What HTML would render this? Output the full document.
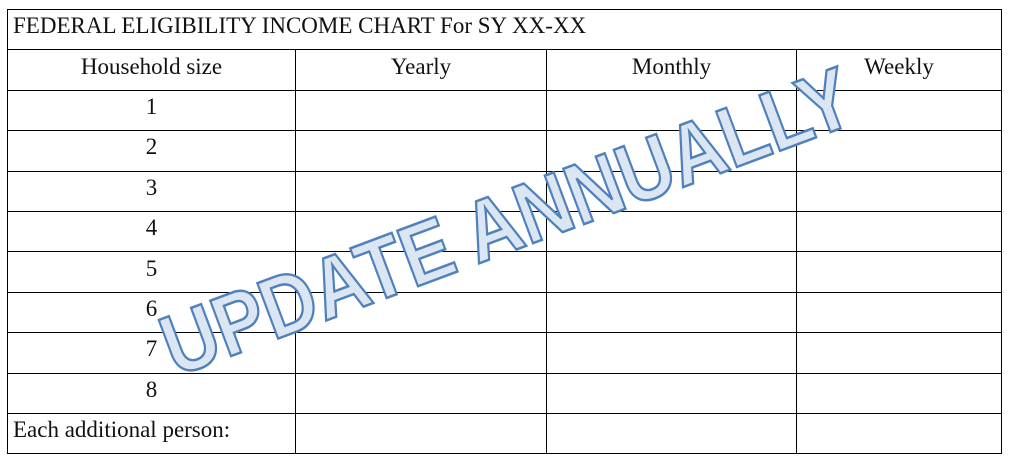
<!DOCTYPE html>
<html><head><meta charset="utf-8"><style>
body{margin:0;width:1009px;height:462px;background:#fff;overflow:hidden;position:relative}
table{position:absolute;left:7px;top:9px;border-collapse:collapse;font-family:"Liberation Serif",serif;font-size:23px;color:#111;table-layout:fixed}
td{border:1px solid #000;height:40.4px;padding:0 0 8px 0;text-align:center;vertical-align:middle;box-sizing:border-box;line-height:1}
tr{height:40.4px}
.l{text-align:left;padding-left:5px}
svg{position:absolute;left:0;top:0}
</style></head><body>
<table>
<colgroup><col style="width:288px"><col style="width:251px"><col style="width:250px"><col style="width:205px"></colgroup>
<tr><td class="l" colspan="4">FEDERAL ELIGIBILITY INCOME CHART For SY XX-XX</td></tr>
<tr><td>Household size</td><td>Yearly</td><td>Monthly</td><td>Weekly</td></tr>
<tr><td>1</td><td></td><td></td><td></td></tr>
<tr><td>2</td><td></td><td></td><td></td></tr>
<tr><td>3</td><td></td><td></td><td></td></tr>
<tr><td>4</td><td></td><td></td><td></td></tr>
<tr><td>5</td><td></td><td></td><td></td></tr>
<tr><td>6</td><td></td><td></td><td></td></tr>
<tr><td>7</td><td></td><td></td><td></td></tr>
<tr><td>8</td><td></td><td></td><td></td></tr>
<tr><td class="l">Each additional person:</td><td></td><td></td><td></td></tr>
</table>
<svg width="1009" height="462">
<text x="507" y="222" transform="rotate(-20.5 507 222)" text-anchor="middle" dominant-baseline="central" font-family="Liberation Sans, sans-serif" font-weight="bold" font-size="86" textLength="730" lengthAdjust="spacingAndGlyphs" fill="#dce6f2" stroke="#4f81bd" stroke-width="2.5">UPDATE ANNUALLY</text>
</svg>
</body></html>
